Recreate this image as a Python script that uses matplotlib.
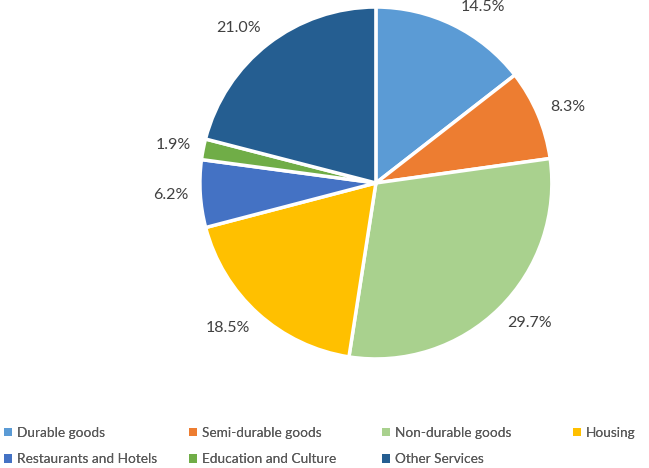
import numpy as np
import matplotlib.pyplot as plt
from matplotlib.patches import Patch

categories = ['Durable goods', 'Semi-durable goods', 'Non-durable goods', 'Housing',
              'Restaurants and Hotels', 'Education and Culture', 'Other Services']
shares = [14.5, 8.3, 29.7, 18.5, 6.2, 1.9, 21.0]
colors = ['#5B9BD5', '#ED7D31', '#A9D18E', '#FFC000', '#4472C4', '#70AD47', '#255E91']

plt.rcParams['font.family'] = ['Lato', 'DejaVu Sans']
text_color = '#404040'

fig = plt.figure(figsize=(6.49, 4.68), dpi=100)
ax = fig.add_axes([0.308, 0.233, 0.5424, 0.752])

wedges, _ = ax.pie(shares, colors=colors, startangle=90, counterclock=False,
                   wedgeprops=dict(edgecolor='white', linewidth=2.5))
ax.set_aspect('equal')
ax.set_xlim(-1, 1)
ax.set_ylim(-1, 1)

# percentage labels just outside each slice, pushed out sideways like office charts
for w, val in zip(wedges, shares):
    ang = np.deg2rad((w.theta1 + w.theta2) / 2)
    x = np.cos(ang) + 0.17 * np.sign(np.cos(ang))
    y = 1.114 * np.sin(ang)
    ax.text(x, y, f'{val:.1f}%', ha='center', va='center', fontsize=11.5,
            color=text_color, clip_on=False)

# legend laid out row by row: one small legend per column
handles = [Patch(facecolor=c, edgecolor='none') for c in colors]
col_x = [0.0, 0.285, 0.582, 0.876]
for c, x0 in enumerate(col_x):
    idx = [i for i in (c, c + 4) if i < len(categories)]
    leg = fig.legend([handles[i] for i in idx], [categories[i] for i in idx],
                     loc='upper left', bbox_to_anchor=(x0, 0.097), frameon=False,
                     fontsize=9.8, handlelength=0.6, handleheight=0.6,
                     handletextpad=0.35, labelspacing=1.05, borderaxespad=0.0,
                     borderpad=0.3, labelcolor='#595959')
    fig.add_artist(leg)

fig.savefig('out.png', dpi=100)
